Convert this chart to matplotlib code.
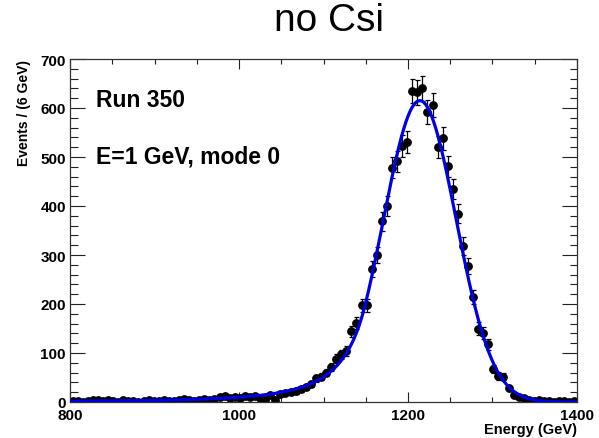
import numpy as np
import matplotlib
matplotlib.use("Agg")
import matplotlib.pyplot as plt
from matplotlib.ticker import MultipleLocator

# histogram: 100 bins of 6 GeV between 800 and 1400
bin_lo, bin_hi, bin_w = 800, 1400, 6
counts = [
    2, 3, 1, 3, 4, 4, 2, 5, 3, 1,
    4, 2, 3, 1, 2, 4, 3, 2, 5, 3,
    2, 4, 6, 5, 3, 5, 7, 4, 6, 10,
    12, 8, 11, 9, 13, 11, 12, 8, 4, 14,
    5, 17, 19, 20, 22, 26, 30, 36, 48, 52,
    60, 71, 88, 97, 105, 144, 161, 197, 197, 271,
    300, 369, 400, 478, 491, 522, 531, 635, 632, 640,
    592, 606, 520, 538, 481, 435, 384, 318, 278, 214,
    150, 141, 118, 67, 53, 52, 28, 15, 10, 8,
    4, 3, 5, 2, 3, 1, 2, 3, 1, 2,
]

# fitted Crystal Ball parameters
cb_mean, cb_sigma, cb_alpha, cb_n, cb_norm = 1214.0, 43.0, 1.5, 3.0, 615.0

title = "no Csi"
label_run = "Run 350"
label_beam = "E=1 GeV, mode 0"


def crystal_ball(x):
    t = (x - cb_mean) / cb_sigma
    a = (cb_n / cb_alpha) ** cb_n * np.exp(-0.5 * cb_alpha ** 2)
    b = cb_n / cb_alpha - cb_alpha
    core = np.exp(-0.5 * t ** 2)
    tail = a * np.abs(b - t) ** (-cb_n)
    return cb_norm * np.where(t > -cb_alpha, core, tail)


plt.rcParams["font.family"] = ["Liberation Sans", "DejaVu Sans"]

centers = np.arange(bin_lo + bin_w / 2, bin_hi, bin_w)
y = np.array(counts, dtype=float)
yerr = np.sqrt(y)

fig = plt.figure(figsize=(5.99, 4.39), dpi=100)
ax = fig.add_axes([70 / 599, 36 / 439, 507 / 599, 343 / 439])

ax.errorbar(centers, y, yerr=yerr, fmt="o", color="black", ms=5.3,
            elinewidth=0.9, capsize=1.8, capthick=0.9, zorder=2)
xf = np.linspace(bin_lo, bin_hi, 1200)
ax.plot(xf, crystal_ball(xf), color="#0000e6", lw=2.3, zorder=3)

ax.set_xlim(bin_lo, bin_hi)
ax.set_ylim(0, 700)
ax.xaxis.set_major_locator(MultipleLocator(200))
ax.xaxis.set_minor_locator(MultipleLocator(50))
ax.yaxis.set_major_locator(MultipleLocator(100))
ax.yaxis.set_minor_locator(MultipleLocator(20))
ax.tick_params(axis="both", which="both", direction="in", top=True, right=True,
               colors="#222222", labelcolor="black")
ax.tick_params(axis="x", which="major", length=7.2, width=0.8, pad=4, labelsize=11)
ax.tick_params(axis="x", which="minor", length=3.6, width=0.8)
ax.tick_params(axis="y", which="major", length=11, width=0.8, pad=3, labelsize=11)
ax.tick_params(axis="y", which="minor", length=5.4, width=0.8)
for lab in ax.get_xticklabels() + ax.get_yticklabels():
    lab.set_fontweight("bold")
for sp in ax.spines.values():
    sp.set_linewidth(0.9)
    sp.set_color("#333333")

ax.set_xlabel("Energy (GeV)", fontsize=10.5, fontweight="bold", loc="right", labelpad=0)
ax.set_ylabel("Events / (6 GeV)", fontsize=10, fontweight="bold", loc="top", labelpad=7)

ax.text(0.051, 0.883, label_run, transform=ax.transAxes, fontsize=16.5,
        fontweight="bold", va="center", ha="left")
ax.text(0.051, 0.717, label_beam, transform=ax.transAxes, fontsize=16.5,
        fontweight="bold", va="center", ha="left")

fig.text(329 / 599, 1 - 21 / 439, title, fontsize=28, ha="center", va="center")

fig.savefig("out.png", dpi=100)
